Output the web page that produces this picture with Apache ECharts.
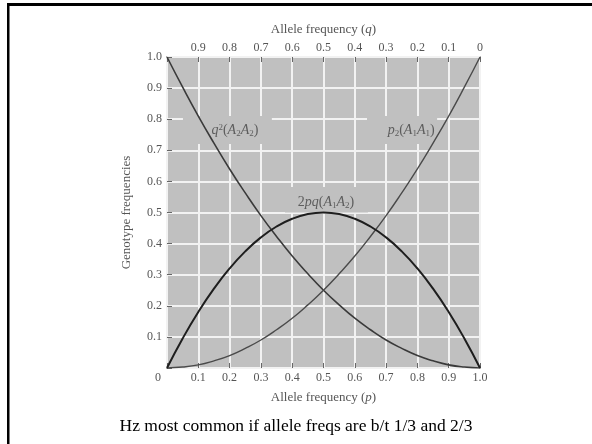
<!DOCTYPE html>
<html>
<head>
<meta charset="utf-8">
<script src="https://cdn.jsdelivr.net/npm/echarts@6/dist/echarts.min.js"></script>
<style>html,body{margin:0;padding:0;background:#fff}#c{width:592px;height:444px}</style>
</head>
<body>
<div id="c"></div>
<script>
// Allele frequency p (bottom axis)
const pValues = [0,0.05,0.1,0.15,0.2,0.25,0.3,0.35,0.4,0.45,0.5,0.55,0.6,0.65,0.7,0.75,0.8,0.85,0.9,0.95,1];
// Genotype frequencies
const homA2 = [1,0.903,0.81,0.723,0.64,0.563,0.49,0.423,0.36,0.303,0.25,0.203,0.16,0.123,0.09,0.063,0.04,0.023,0.01,0.003,0];
const homA1 = [0,0.003,0.01,0.023,0.04,0.063,0.09,0.123,0.16,0.203,0.25,0.303,0.36,0.423,0.49,0.563,0.64,0.723,0.81,0.903,1];
const het   = [0,0.095,0.18,0.255,0.32,0.375,0.42,0.455,0.48,0.495,0.5,0.495,0.48,0.455,0.42,0.375,0.32,0.255,0.18,0.095,0];
// Curve labels: text and anchor (p, frequency)
const curveLabelText = [
  '{i|q}{sup|2}{n|(}{i|A}{sub|2}{i|A}{sub|2}{n|)}',
  '{i|p}{sub|2}{n|(}{i|A}{sub|1}{i|A}{sub|1}{n|)}',
  '{n|2}{i|pq}{n|(}{i|A}{sub|1}{i|A}{sub|2}{n|)}'
];
const curveLabelAt = [[0.217,0.765],[0.78,0.765],[0.508,0.534]];
// Background knock-outs behind the labels: [[x0,y0],[x1,y1]]
const labelBoxes = [[[0.051,0.72],[0.335,0.81]],[[0.639,0.72],[0.863,0.81]],[[0.377,0.5],[0.642,0.582]]];
const caption = 'Hz most common if allele freqs are b/t 1/3 and 2/3';

const SERIF = '"Liberation Serif","DejaVu Serif",serif';
const txtGray = '#555';
const chart = echarts.init(document.getElementById('c'), null, {renderer:'canvas'});

const pts = arr => pValues.map((p,i)=>[p,arr[i]]);

const rich = {
  n:{fontFamily:SERIF,fontSize:14,color:'#444',lineHeight:18,verticalAlign:'middle'},
  i:{fontFamily:SERIF,fontSize:14,fontStyle:'italic',color:'#444',lineHeight:18,verticalAlign:'middle'},
  sub:{fontFamily:SERIF,fontSize:9,color:'#444',lineHeight:18,verticalAlign:'bottom',padding:[0,0,1,0]},
  sup:{fontFamily:SERIF,fontSize:9,color:'#444',lineHeight:18,verticalAlign:'top',padding:[2,0,0,0]}
};

const option = {
  animation:false,
  backgroundColor:'#fff',
  title:{
    text:caption, left:'center', top:412,
    textStyle:{fontFamily:SERIF,fontSize:17.5,fontWeight:'normal',color:'#000'}
  },
  grid:{left:167,right:112,top:57,bottom:76,show:true,backgroundColor:'#c0c0c0',borderColor:'#7a7a7a',borderWidth:1.5,z:0},
  xAxis:[{
    type:'value',position:'bottom',min:0,max:1,interval:0.1,
    name:'Allele frequency ({it|p})',nameLocation:'middle',nameGap:23,
    nameTextStyle:{fontFamily:SERIF,fontSize:13,color:txtGray,
      rich:{it:{fontFamily:SERIF,fontSize:13,fontStyle:'italic',color:txtGray}}},
    axisLine:{show:false},
    axisTick:{show:true,inside:true,length:5,lineStyle:{color:'#666',width:1}},
    axisLabel:{margin:4,fontFamily:SERIF,fontSize:12,color:txtGray,
      formatter:v=> v===0 ? '{z|0}' : v.toFixed(1),
      rich:{z:{fontFamily:SERIF,fontSize:12,color:txtGray,padding:[0,18,0,0]}}},
    splitLine:{show:true,lineStyle:{color:'#f2f2f2',width:2}}
  },{
    type:'value',position:'top',min:0,max:1,interval:0.1,inverse:true,
    name:'Allele frequency ({it|q})',nameLocation:'middle',nameGap:21,
    nameTextStyle:{fontFamily:SERIF,fontSize:13,color:txtGray,
      rich:{it:{fontFamily:SERIF,fontSize:13,fontStyle:'italic',color:txtGray}}},
    axisLine:{show:false},
    axisTick:{show:true,inside:true,length:5,lineStyle:{color:'#666',width:1}},
    axisLabel:{margin:3,fontFamily:SERIF,fontSize:12,color:txtGray,
      formatter:v=> v===1 ? '' : (v===0 ? '0' : v.toFixed(1))},
    splitLine:{show:false}
  }],
  yAxis:{
    type:'value',min:0,max:1,interval:0.1,
    name:'Genotype frequencies',nameLocation:'middle',nameGap:34,
    nameTextStyle:{fontFamily:SERIF,fontSize:13,color:txtGray},
    axisLine:{show:false},
    axisTick:{show:true,inside:true,length:5,lineStyle:{color:'#666',width:1}},
    axisLabel:{margin:5,fontFamily:SERIF,fontSize:12,color:txtGray,
      formatter:v=> v===0 ? '' : v.toFixed(1)},
    splitLine:{show:true,lineStyle:{color:'#f2f2f2',width:2}}
  },
  series:[
    {type:'line',name:'q2',data:pts(homA2),smooth:true,symbol:'none',z:3,
      lineStyle:{color:'#3a3a3a',width:1.6},
      markArea:{silent:true,itemStyle:{color:'#c0c0c0',opacity:1},
        data:labelBoxes.map(b=>[{coord:b[0]},{coord:b[1]}])}},
    {type:'line',name:'p2',data:pts(homA1),smooth:true,symbol:'none',z:3,
      lineStyle:{color:'#4a4a4a',width:1.4}},
    {type:'line',name:'2pq',data:pts(het),smooth:true,symbol:'none',z:4,
      lineStyle:{color:'#1e1e1e',width:2}},
    {type:'scatter',symbolSize:0,z:5,silent:true,
      data:curveLabelAt.map((c,i)=>({value:c,label:{formatter:curveLabelText[i]}})),
      label:{show:true,position:'inside',rich:rich}}
  ],
  graphic:[
    {type:'rect',shape:{x:7,y:3,width:585,height:3},style:{fill:'#000'},silent:true},
    {type:'rect',shape:{x:7,y:3,width:2.5,height:441},style:{fill:'#000'},silent:true}
  ]
};
chart.setOption(option);
</script>
</body>
</html>
